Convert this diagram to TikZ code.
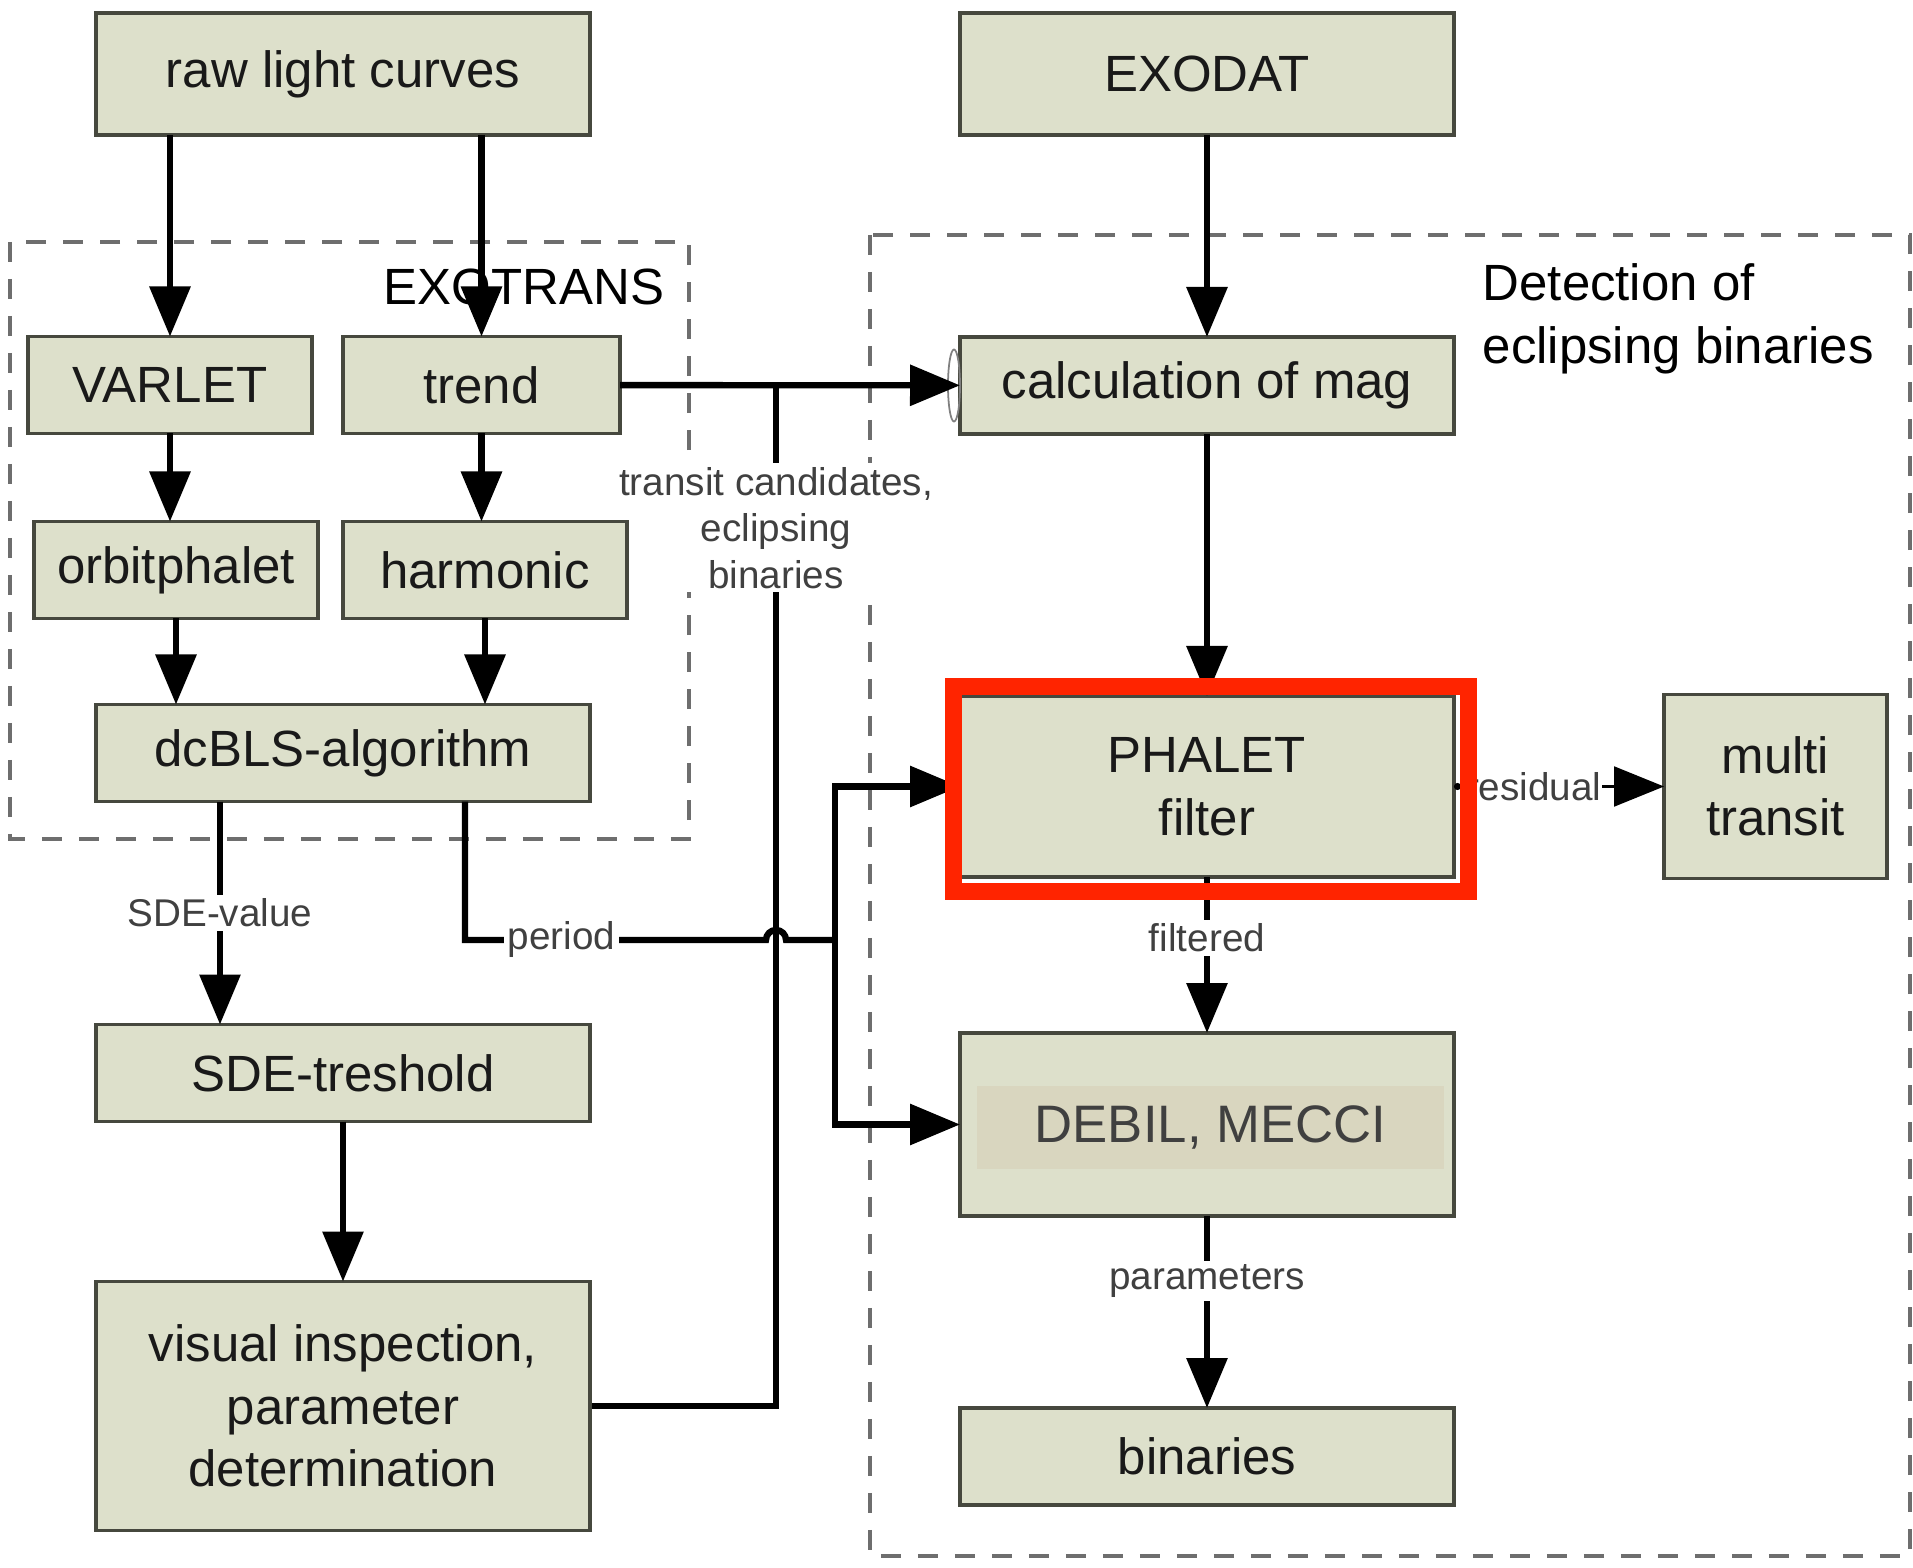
\documentclass[tikz,border=0pt]{standalone}
\usepackage{fontspec}
\setmainfont{Liberation Sans}
\usetikzlibrary{positioning,arrows.meta,backgrounds}

\definecolor{boxfill}{RGB}{221,224,203}
\definecolor{boxline}{RGB}{70,72,62}
\definecolor{debilfill}{RGB}{217,214,191}
\definecolor{markred}{RGB}{255,36,0}
\definecolor{dashgray}{RGB}{110,110,110}

\begin{document}
\begin{tikzpicture}[
        stage/.style={rectangle, draw=boxline, fill=boxfill, line width=0.9pt, outer sep=0pt, minimum width=4.94cm, minimum height=0.97cm, inner sep=0pt, align=center, text=black!90, font=\fontsize{14.5}{17.8}\selectfont},
        tool/.style={stage, minimum width=2.84cm},
        group/.style={draw=dashgray, dash pattern=on 0.2cm off 0.17cm, line width=1.3pt},
        flow/.style={-{Triangle[length=0.5cm, width=0.4cm]}, line width=1.8pt},
        tag/.style={fill=white, inner sep=1pt, text=black!75, font=\fontsize{11}{13.3}\selectfont},
        node distance=0.88cm and 0.31cm
    ]
    \useasboundingbox (0,0) rectangle (19.13,-15.68);

    % left column
    \node[stage, minimum height=1.22cm] (raw) at (3.43,-0.74) {raw light curves};
    \node[tool]     (varlet)   at (1.70,-3.85)  {VARLET};
    \node[tool, minimum width=2.77cm] (trend) [right=of varlet] {trend};
    \node[tool]     (orbit)    [below=of varlet.south west, anchor=north west, xshift=0.06cm] {orbitphalet};
    \node[tool]     (harmonic) [below=of trend.south west, anchor=north west] {harmonic};
    \node[stage]    (dcbls)    [below=0.86cm of orbit.south west, anchor=north west, xshift=0.62cm] {dcBLS-algorithm};
    \node[stage]    (sde)      [below=2.23cm of dcbls] {SDE-treshold};
    \node[stage, minimum height=2.49cm] (visual) [below=1.60cm of sde] {visual inspection,\\parameter\\determination};

    % right column
    \node[stage, minimum height=1.22cm] (exodat) [right=3.70cm of raw] {EXODAT};
    \node[stage]    (calc)     [below=2.02cm of exodat] {calculation of mag};
    \node[stage, minimum height=1.81cm] (phalet) [below=2.62cm of calc] {PHALET\\filter};
    \node[stage, minimum height=1.83cm] (debil)  [below=1.56cm of phalet] {};
    \node[fill=debilfill, minimum width=4.67cm, minimum height=0.83cm, inner sep=0pt, text=black!75, font=\fontsize{15}{18}\selectfont] (debiltext) [xshift=0.035cm, yshift=-0.03cm] at (debil) {DEBIL, MECCI};
    \node[stage]    (binaries) [below=1.92cm of debil] {binaries};
    \node[stage, minimum width=2.23cm, minimum height=1.84cm] (multi) [right=2.10cm of phalet] {multi\\transit};

    \coordinate (hop)   at (7.76,-9.40);
    \coordinate (split) at (8.35,-9.40);
    \coordinate (merge) at (hop |- trend.east);

    % dashed groups, behind the boxes
    \begin{pgfonlayer}{background}
        \draw[group] (0.10,-2.42) rectangle (6.89,-8.39);
        \draw[group] (8.70,-2.35) rectangle (19.10,-15.56);
        \node[anchor=east, inner sep=0pt, font=\fontsize{14.5}{17.8}\selectfont] (exotrans) at (6.65,-2.87) {EXOTRANS};
        \node[anchor=north west, inner sep=0pt, align=left, font=\fontsize{14.5}{17.8}\selectfont] (detection) at (14.82,-2.63) {Detection of\\eclipsing binaries};
        \draw[line width=1.8pt] (visual.east) -| node[tag, pos=0.93, align=center] {transit candidates,\\eclipsing\\binaries} (merge);
    \end{pgfonlayer}

    % connectors
    \draw[flow] (raw.south -| varlet.north) -- (varlet.north);
    \draw[flow] (raw.south -| trend.north) -- (trend.north);
    \draw[flow] (varlet.south) -- (varlet.south |- orbit.north);
    \draw[flow] (trend.south) -- (trend.south |- harmonic.north);
    \draw[flow] (orbit.south) -- (orbit.south |- dcbls.north);
    \draw[flow] (harmonic.south) -- (harmonic.south |- dcbls.north);
    \draw[flow] ([xshift=1.24cm]dcbls.south west) -- node[tag] {SDE-value} ([xshift=1.24cm]sde.north west);
    \draw[flow] (sde) -- (visual);

    \draw[flow] (exodat) -- (calc);
    \draw[gray, line width=0.5pt] ([xshift=-0.06cm]calc.west) ellipse [x radius=0.06cm, y radius=0.36cm];
    \draw[flow] (trend) -- (calc);
    \draw[flow] (calc) -- (phalet);
    \draw[flow] (phalet) -- node[tag, pos=0.39] {filtered} (debil);
    \draw[flow] (debil) -- node[tag, pos=0.34] {parameters} (binaries);
    \draw[{Circle[length=0.07cm]}-{Triangle[length=0.5cm, width=0.4cm]}, line width=0.6pt] (phalet.east) -- node[tag, inner sep=0pt, pos=0.38] {residual} (multi.west);

    \draw[line width=1.8pt] ([xshift=3.69cm]dcbls.south west) |- node[tag, pos=0.66] {period} ([xshift=-0.1cm]hop) arc[start angle=180, end angle=0, radius=0.1cm] -- (split);
    \draw[flow] (split) |- (phalet.west);
    \draw[flow] (split) |- (debil.west);

    % highlight
    \draw[markred, line width=0.17cm] ([shift={(-0.065cm,0.095cm)}]phalet.north west) rectangle ([shift={(0.145cm,-0.145cm)}]phalet.south east);
\end{tikzpicture}
\end{document}
